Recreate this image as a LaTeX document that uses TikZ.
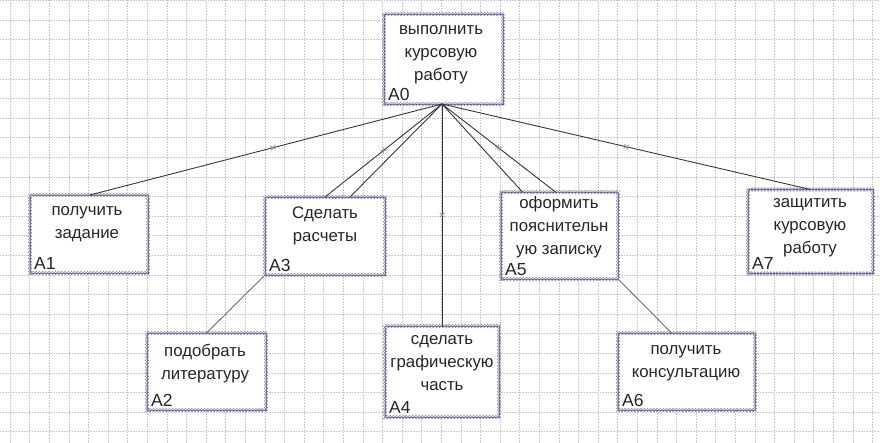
\documentclass[tikz,border=0pt]{standalone}
\usepackage{fontspec}
\setmainfont{Liberation Sans}
\usetikzlibrary{decorations.markings,calc}
\definecolor{gridc}{RGB}{200,200,200}
\definecolor{bline}{RGB}{85,85,105}
\definecolor{xcol}{RGB}{140,140,190}
\definecolor{conn}{RGB}{55,55,55}
\definecolor{conn2}{RGB}{110,110,110}
\tikzset{
  box/.style={rectangle, inner sep=0pt, outer sep=0pt, fill=white},
  xborder/.style={draw=bline, line width=0.7pt,
    postaction={decorate, decoration={markings,
      mark=between positions 0 and 1 step 3.2pt with {\draw[xcol, line width=0.55pt] (-1.9pt,-1.9pt)--(1.9pt,1.9pt) (-1.9pt,1.9pt)--(1.9pt,-1.9pt);}}}},
  txt/.style={inner sep=0pt, align=center, font=\fontsize{16.8}{23}\selectfont, text=black!85},
  lbl/.style={inner sep=0pt, anchor=base west, font=\fontsize{17.5}{20}\selectfont, text=black!85},
  con/.style={draw=conn, line width=0.9pt},
  con2/.style={draw=conn2, line width=0.9pt},
  xmark/.style={postaction={decorate, decoration={markings,
      mark=at position #1 with {\draw[xcol, line width=0.8pt] (-2.3pt,-2.3pt)--(2.3pt,2.3pt) (-2.3pt,2.3pt)--(2.3pt,-2.3pt);}}}}
}
\begin{document}
\begin{tikzpicture}[x=1pt,y=-1pt]
\useasboundingbox (0,0) rectangle (880,442);
\fill[white] (0,0) rectangle (880,442);
% grid
\foreach \i in {0,...,44} {
  \draw[gridc, line width=0.5pt, dash pattern=on 0.8pt off 0.8pt] ({10+19.6*\i},0) -- ({10+19.6*\i},442);
}
\foreach \j in {0,...,22} {
  \draw[gridc, line width=0.5pt, dash pattern=on 0.8pt off 0.8pt] (0,{0.4+19.6*\j}) -- (880,{0.4+19.6*\j});
}
% boxes
\node[box, minimum width=119pt, minimum height=90pt] (a0) at (443.5,59) {};
\node[box, minimum width=118pt, minimum height=78pt] (a1) at (89,234) {};
\node[box, minimum width=120pt, minimum height=78pt] (a3) at (325,236) {};
\node[box, minimum width=117pt, minimum height=87pt] (a5) at (559.5,235.5) {};
\node[box, minimum width=125pt, minimum height=84pt] (a7) at (810.5,231.5) {};
\node[box, minimum width=119pt, minimum height=77pt] (a2) at (206.5,371.5) {};
\node[box, minimum width=114pt, minimum height=91pt] (a4) at (442,371.5) {};
\node[box, minimum width=137pt, minimum height=77pt] (a6) at (686.5,371.5) {};
\foreach \n in {a0,a1,a2,a3,a4,a5,a6,a7} {
  \path[xborder] (\n.south west) rectangle (\n.north east);
}
% texts
\node[txt] (t0) at (441,54.5) {выполнить\\курсовую\\работу};
\node[txt] (t1) at (87,224) {получить\\задание};
\node[txt] (t3) at (325,225.5) {Сделать\\расчеты};
\node[txt] (t5) at (559,227.5) {оформить\\пояснительн\\ую записку};
\node[txt] (t7) at (810,227.5) {защитить\\курсовую\\работу};
\node[txt] (t2) at (205,363.5) {подобрать\\литературу};
\node[txt] (t4) at (442,363) {сделать\\графическую\\часть};
\node[txt] (t6) at (686,363.5) {получить\\консультацию};
% labels
\node[lbl] (l0) at ($(a0.south west)+(4,-4)$) {A0};
\node[lbl] (l1) at ($(a1.south west)+(4,-4)$) {A1};
\node[lbl] (l3) at ($(a3.south west)+(4,-4)$) {A3};
\node[lbl] (l5) at ($(a5.south west)+(4,-4)$) {A5};
\node[lbl] (l7) at ($(a7.south west)+(4,-4)$) {A7};
\node[lbl] (l2) at ($(a2.south west)+(4,-4)$) {A2};
\node[lbl] (l4) at ($(a4.south west)+(4,-4)$) {A4};
\node[lbl] (l6) at ($(a6.south west)+(4,-4)$) {A6};
% connectors
\coordinate (o) at ([xshift=-1.5pt]a0.south);
\draw[con, xmark=0.48] (o) -- ([xshift=1pt]a1.north);
\draw[con, xmark=0.5] (o) -- (a3.north);
\draw[con] (o) -- ([xshift=25pt]a3.north);
\draw[con, xmark=0.5] (o) -- (a4.north);
\draw[con] (o) -- ([xshift=-37pt]a5.north);
\draw[con, xmark=0.5] (o) -- ([xshift=-4pt]a5.north);
\draw[con, xmark=0.5] (o) -- (a7.north);
\draw[con2] (a3.south west) -- (a2.north);
\draw[con2] (a5.south east) -- ([xshift=-15pt]a6.north);
\end{tikzpicture}
\end{document}
